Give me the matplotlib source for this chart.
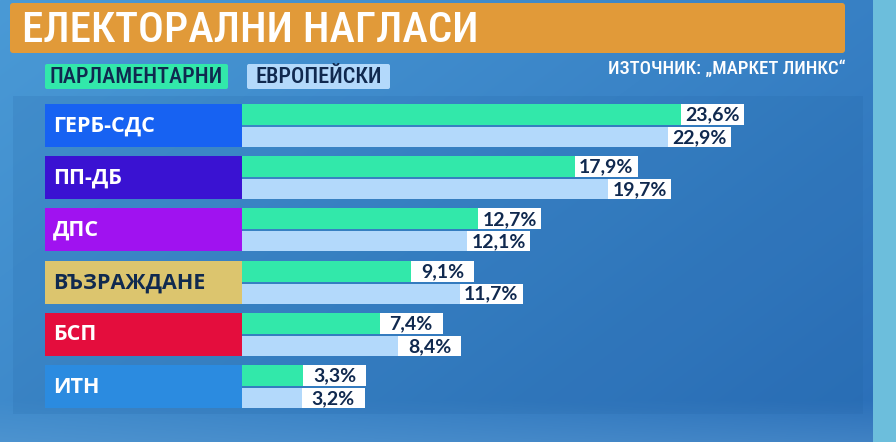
import numpy as np
import matplotlib
matplotlib.use("Agg")
import matplotlib.pyplot as plt
from matplotlib.patches import Rectangle, FancyBboxPatch

# ---------------- data ----------------
title = "ЕЛЕКТОРАЛНИ НАГЛАСИ"
source = "ИЗТОЧНИК: „МАРКЕТ ЛИНКС“"
series_names = ["ПАРЛАМЕНТАРНИ", "ЕВРОПЕЙСКИ"]
parties = ["ГЕРБ-СДС", "ПП-ДБ", "ДПС", "ВЪЗРАЖДАНЕ", "БСП", "ИТН"]
parliamentary = [23.6, 17.9, 12.7, 9.1, 7.4, 3.3]
european = [22.9, 19.7, 12.1, 11.7, 8.4, 3.2]
party_colors = ["#1762F2", "#3A12D2", "#A012F0", "#DCC56E", "#E40D3D", "#2B8BE0"]
party_text_colors = ["white", "white", "white", "#10294F", "white", "white"]

GREEN = "#32E8AA"
LIGHT = "#B3D9FB"
NAVY = "#10294F"
ORANGE = "#E19A39"
COND = ["Roboto Condensed", "PT Sans Narrow", "DejaVu Sans"]
GEO = ["Open Sans", "DejaVu Sans"]
NUM = ["Lato", "Open Sans", "DejaVu Sans"]

W, H = 896, 442
fig = plt.figure(figsize=(W / 100, H / 100), dpi=100)

# ---------------- background ----------------
bg = fig.add_axes([0, 0, 1, 1])
bg.set_xlim(0, W)
bg.set_ylim(H, 0)
bg.axis("off")
yy, xx = np.mgrid[0:H, 0:W]
t = (xx / W * 0.6 + yy / H * 0.4)
c0 = np.array([0x4A, 0x9A, 0xD6]) / 255
c1 = np.array([0x2A, 0x6E, 0xB8]) / 255
img = c0[None, None, :] * (1 - t[..., None]) + c1[None, None, :] * t[..., None]
b = np.clip((yy - 400) / 42, 0, 1)[..., None]
img = img * (1 - 0.35 * b) + np.array([0x6A, 0xA8, 0xDA]) / 255 * 0.35 * b
strip = (xx > 872)[..., None]
img = np.where(strip, np.array([0x6C, 0xBE, 0xDC]) / 255, img)
bg.imshow(img, extent=(0, W, H, 0), aspect="auto", zorder=0)

bg.add_patch(Rectangle((13, 96), 850, 318, facecolor="#1E5E9E", alpha=0.15,
                       edgecolor="none", zorder=1))

# title banner
bg.add_patch(FancyBboxPatch((10, 3), 835, 50, boxstyle="round,pad=0,rounding_size=3",
                            facecolor=ORANGE, edgecolor="none", zorder=2))
bg.text(22, 30, title, color="white", fontsize=31, fontweight="medium",
        family=COND, va="center", ha="left", zorder=3)

# legend boxes
leg_x = [45, 247]
leg_w = [183, 143]
leg_c = [GREEN, LIGHT]
for x0, w0, c, name in zip(leg_x, leg_w, leg_c, series_names):
    bg.add_patch(FancyBboxPatch((x0, 64), w0, 25, boxstyle="round,pad=0,rounding_size=2",
                                facecolor=c, edgecolor="none", zorder=2))
    bg.text(x0 + w0 / 2, 77, name, color=NAVY, fontsize=16, fontweight="medium",
            family=COND, va="center", ha="center", zorder=3)

bg.text(845, 69, source, color="white", fontsize=13.6, fontweight="medium",
        family=COND, va="center", ha="right", zorder=3)

# ---------------- bars ----------------
px_per_unit = 18.6
pitch = 52.2
top0 = 104
x0px = 242
ax = fig.add_axes([x0px / W, 1 - (top0 + pitch * 6) / H, (W - x0px) / W, pitch * 6 / H])
ax.set_xlim(0, (W - x0px) / px_per_unit)
ax.set_ylim(6, 0)
ax.axis("off")
ax.patch.set_alpha(0)

n = len(parties)
idx = np.arange(n)
row_h = 43 / pitch
half = 21 / pitch
gap = 2 / pitch
label_left = -(x0px - 45) / px_per_unit
box_w = 63 / px_per_unit

ax.barh(idx, -label_left, left=label_left, height=row_h, align="edge",
        color=party_colors, clip_on=False, zorder=2)
for i, (p, tc) in enumerate(zip(parties, party_text_colors)):
    ax.text(label_left + 8 / px_per_unit, i + row_h / 2 + 0.01, p, color=tc,
            fontsize=15.5, fontweight="bold", fontstretch="normal", family=GEO,
            va="center", ha="left", clip_on=False, zorder=3)

ax.barh(idx, parliamentary, height=half, align="edge", color=GREEN, zorder=2)
ax.barh(idx + half + gap, european, height=row_h - half - gap, align="edge",
        color=LIGHT, zorder=2)

def fmt(v):
    return f"{v:.1f}".replace(".", ",") + "%"

ax.barh(idx, [box_w] * n, left=parliamentary, height=half, align="edge",
        color="white", zorder=2)
ax.barh(idx + half + gap, [box_w] * n, left=european, height=row_h - half - gap,
        align="edge", color="white", zorder=2)
for i in range(n):
    ax.text(parliamentary[i] + box_w / 2, i + half / 2 + 0.01, fmt(parliamentary[i]),
            color=NAVY, fontsize=14, fontweight="bold", fontstretch="normal",
            family=NUM, va="center", ha="center", zorder=3)
    ax.text(european[i] + box_w / 2, i + half + gap + (row_h - half - gap) / 2 + 0.01,
            fmt(european[i]), color=NAVY, fontsize=14, fontweight="bold",
            fontstretch="normal", family=NUM, va="center", ha="center", zorder=3)

fig.savefig("out.png", dpi=100)
